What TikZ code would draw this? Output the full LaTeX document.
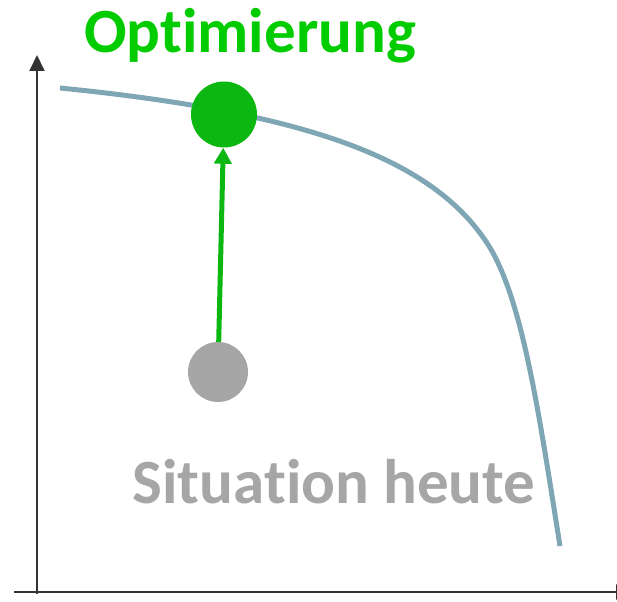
\documentclass[tikz,border=0pt]{standalone}
\usepackage{fontspec}
\setmainfont{Carlito}[RawFeature=-liga, RawFeature=-calt, RawFeature=-clig]
\usepackage{tikz}
\usetikzlibrary{arrows.meta}
\definecolor{axisgray}{RGB}{51,51,51}
\definecolor{frontblue}{RGB}{127,166,181}
\definecolor{optgreen}{RGB}{13,183,18}
\definecolor{txtgreen}{RGB}{0,204,0}
\definecolor{nowgray}{RGB}{166,166,166}

\begin{document}
\begin{tikzpicture}[x=1pt, y=-1pt,
      axis/.style={line width=2pt, axisgray, -{Triangle[length=16pt, width=15pt]}},
      front/.style={line width=5pt, frontblue},
      dot/.style={circle, inner sep=0pt, minimum size=#1},
      lbl/.style={font=\fontsize{63}{63}\selectfont\bfseries, anchor=base, inner sep=0pt},
      arr/.style={line width=5pt, optgreen, -{Triangle[length=16pt, width=17pt]}}
    ]
    \useasboundingbox (0,0) rectangle (617,601);
    \clip (0,0) rectangle (617,601);

    % axes
    \coordinate (orig) at (37,594);
    \coordinate (ytop) at (37,55);
    \coordinate (xleft) at (14,592);
    \coordinate (xright) at (632,592);
    \draw[axis] (orig) -- (ytop);
    \draw[axis] (xleft) -- (xright);

    % pareto front
    \draw[front] (60,88) .. controls (310,113) and (432,159.5) .. (487,243)
      .. controls (522.75,297.3) and (539.2,416) .. (560,546);

    \node[dot=60pt, fill=nowgray] (heute) at (218,372) {};
    \node[dot=66pt, fill=optgreen] (opt) at (224,114.5) {};
    \draw[arr] (heute) -- (opt);

    \node[lbl, txtgreen] (optlbl) at (250,53) {Optimierung};
    \node[lbl, nowgray] (heutelbl) at (334,503) {Situation heute};
  \end{tikzpicture}
\end{document}
